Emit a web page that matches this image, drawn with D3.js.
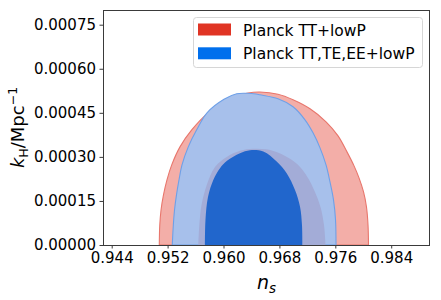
<!DOCTYPE html>
<html><head><meta charset="utf-8">
<script src="https://cdn.jsdelivr.net/npm/d3@7"></script>
<style>
html,body{margin:0;padding:0;background:#fff;}
svg{display:block;font-family:"DejaVu Sans",sans-serif;}
</style></head>
<body><svg id="c" width="441" height="300"></svg>
<script>
// ---- data (ns, kH) ----
const xTicks = [0.944, 0.952, 0.960, 0.968, 0.976, 0.984];
const yTicks = [0, 0.00015, 0.00030, 0.00045, 0.00060, 0.00075];
const seriesNames = ["Planck TT+lowP", "Planck TT,TE,EE+lowP"];

const redOuter = [[0.95081,0],[0.95088,0.0000682],[0.95106,0.0001193],[0.95141,0.0001705],[0.95191,0.0002216],
  [0.95259,0.0002727],[0.95377,0.0003341],[0.95545,0.000392],[0.95782,0.00045],[0.96046,0.0004892],
  [0.96189,0.0005069],[0.96351,0.0005175],[0.96522,0.0005206],[0.96780,0.0005131],[0.96995,0.0004943],
  [0.97238,0.0004636],[0.97467,0.0004193],[0.97639,0.0003716],[0.97767,0.000317],[0.97868,0.0002693],
  [0.97939,0.0002284],[0.98004,0.0001807],[0.98046,0.0001295],[0.98068,0.0000682],[0.98075,0]];
const redInner = [[0.95639,0],[0.95654,0.0000682],[0.95685,0.0001364],[0.95760,0.0002045],[0.95878,0.0002659],
  [0.96046,0.0003],[0.96236,0.0003205],[0.96422,0.0003273],[0.96608,0.0003256],[0.96794,0.0003136],
  [0.96952,0.0002932],[0.97095,0.0002659],[0.97209,0.0002284],[0.97309,0.0001807],[0.97388,0.0001295],
  [0.97438,0.0000682],[0.97460,0]];
const blueOuter = [[0.95267,0],[0.95282,0.0000682],[0.95299,0.0001193],[0.95327,0.0001705],[0.95363,0.0002216],
  [0.95406,0.0002727],[0.95496,0.0003341],[0.95616,0.000392],[0.95764,0.00045],[0.96007,0.000496],
  [0.96189,0.0005148],[0.96336,0.0005165],[0.96465,0.0005141],[0.96522,0.0005114],[0.96780,0.0004977],
  [0.96995,0.0004705],[0.97166,0.0004261],[0.97281,0.0003818],[0.97381,0.0003307],[0.97467,0.0002727],
  [0.97524,0.0002148],[0.97574,0.0001534],[0.97603,0.0000852],[0.97610,0]];
const blueInner = [[0.95735,0],[0.95742,0.0000852],[0.95778,0.0001636],[0.95854,0.0002216],[0.95950,0.0002615],
  [0.96050,0.0002864],[0.96236,0.0003126],[0.96379,0.0003228],[0.96570,0.0003181],[0.96761,0.000284],
  [0.96904,0.0002444],[0.97023,0.0001875],[0.97095,0.0001306],[0.97123,0.0000682],[0.97128,0]];

// ---- layout ----
const svg = d3.select("#c");
const L = 103, R = 430, T = 10, B = 245;
const x = d3.scaleLinear().domain([0.942755, 0.98955]).range([L, R]);
const y = d3.scaleLinear().domain([0, 0.0008]).range([B, T]);

svg.append("defs").append("clipPath").attr("id","clip")
  .append("rect").attr("x",L).attr("y",T).attr("width",R-L).attr("height",B-T);

const line = d3.line().x(d=>x(d[0])).y(d=>y(d[1])).curve(d3.curveCatmullRom.alpha(0.5));
const g = svg.append("g").attr("clip-path","url(#clip)");
function area(data, fill, stroke){
  g.append("path").attr("d", line(data)+"Z").attr("fill",fill)
   .attr("stroke", stroke||"none").attr("stroke-width",1.1).attr("stroke-linejoin","round");
}
area(redOuter, "#f3aea8", "#e8766c");
area(blueOuter, "#a7c0eb", "#6ea0e8");
area(redInner, "#a3acd7");
area(blueInner, "#2166cc");

// ---- axes ----
const axColor = "#3a3a3a";
const xAxis = d3.axisBottom(x).tickValues(xTicks).tickFormat(d3.format(".3f")).tickSize(3.5).tickPadding(3.5);
const yAxis = d3.axisLeft(y).tickValues(yTicks).tickFormat(d3.format(".5f")).tickSize(3.5).tickPadding(3.5);
const gx = svg.append("g").attr("transform",`translate(0,${B})`).call(xAxis);
const gy = svg.append("g").attr("transform",`translate(${L},0)`).call(yAxis);
[gx,gy].forEach(a=>{
  a.select(".domain").remove();
  a.selectAll(".tick line").attr("stroke",axColor).attr("stroke-width",1);
  a.selectAll(".tick text").attr("fill","#000").attr("font-size",15).attr("font-family","DejaVu Sans");
});
svg.append("rect").attr("x",L+0.5).attr("y",T+0.5).attr("width",R-L-1).attr("height",B-T)
  .attr("fill","none").attr("stroke",axColor).attr("stroke-width",1);

// ---- labels ----
const xl = svg.append("text").attr("x",(L+R)/2).attr("y",289).attr("text-anchor","middle")
  .attr("font-size",19).attr("font-family","DejaVu Sans");
xl.append("tspan").attr("font-style","italic").text("n");
xl.append("tspan").attr("font-style","italic").attr("font-size",13.5).attr("dy",4).text("s");

const yl = svg.append("text").attr("transform",`translate(24,${(T+B)/2}) rotate(-90)`)
  .attr("text-anchor","middle").attr("font-size",18).attr("font-family","DejaVu Sans");
yl.append("tspan").attr("font-style","italic").text("k");
yl.append("tspan").attr("font-size",12.5).attr("dy",3.5).text("H");
yl.append("tspan").attr("dy",-3.5).text("/Mpc");
yl.append("tspan").attr("font-size",12.5).attr("dy",-7).text("\u22121");

// ---- legend ----
const legColors = ["#e03424", "#006fed"];
const lg = svg.append("g");
lg.append("rect").attr("x",193.5).attr("y",17.5).attr("width",229).attr("height",50).attr("rx",3)
  .attr("fill","#fff").attr("fill-opacity",0.8).attr("stroke","#d6d6d6").attr("stroke-width",1);
seriesNames.forEach((n,i)=>{
  lg.append("rect").attr("x",198).attr("y",23.5+i*23.8).attr("width",33).attr("height",12).attr("fill",legColors[i]);
  lg.append("text").attr("x",243).attr("y",35.5+i*23.8).attr("font-size",15.5).attr("font-family","DejaVu Sans").text(n);
});
</script></body></html>
